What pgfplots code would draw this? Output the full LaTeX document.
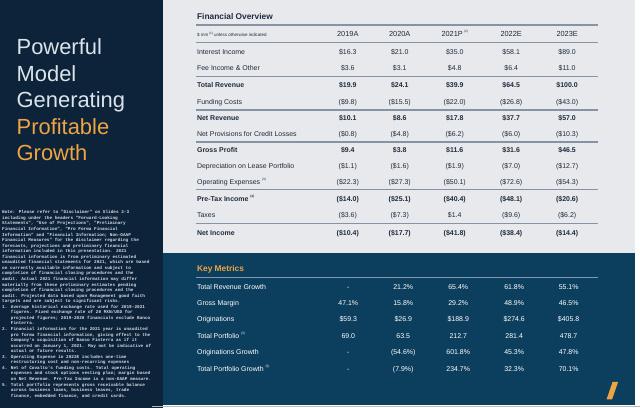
\documentclass[border=0pt]{standalone}
\usepackage{pgfplots}
\pgfplotsset{compat=1.18}
\usepackage{fontspec}
\setmainfont{Liberation Sans}
\newfontfamily\notefont{Liberation Mono}
\definecolor{leftbg}{HTML}{0C233A}
\definecolor{graybg}{HTML}{E8E9ED}
\definecolor{tealbg}{HTML}{0C3E5D}
\definecolor{ink}{HTML}{1E2C3C}
\definecolor{rulec}{HTML}{8593A5}
\definecolor{krule}{HTML}{7F98AE}
\definecolor{orng}{HTML}{EFA443}
\definecolor{titlegray}{HTML}{DCE3EA}
\definecolor{notegray}{HTML}{D5DBE2}
\newcommand\fn[1]{\raisebox{0.5em}{\fontsize{3.2}{3.2}\selectfont(#1)}}
\newcommand\rf{\fontsize{7}{8.4}\selectfont}
\newcommand\rfb{\fontsize{7}{8.4}\selectfont\bfseries}
% financial overview row: font, y, label, 5 values
\newcommand\frow[8]{%
 \node[anchor=mid west,font=#1,text=ink,inner sep=0] at (axis cs:197,#2) {#3};
 \node[anchor=mid,font=#1,text=ink,inner sep=0] at (axis cs:348,#2) {#4};
 \node[anchor=mid,font=#1,text=ink,inner sep=0] at (axis cs:400,#2) {#5};
 \node[anchor=mid,font=#1,text=ink,inner sep=0] at (axis cs:455,#2) {#6};
 \node[anchor=mid,font=#1,text=ink,inner sep=0] at (axis cs:511.5,#2) {#7};
 \node[anchor=mid,font=#1,text=ink,inner sep=0] at (axis cs:567.5,#2) {#8};}
% key metrics row: y, label, 5 values
\newcommand\krow[7]{%
 \node[anchor=mid west,font=\rf,text=white,inner sep=0] at (axis cs:197,#1) {#2};
 \node[anchor=mid,font=\rf,text=white,inner sep=0] at (axis cs:348.5,#1) {#3};
 \node[anchor=mid,font=\rf,text=white,inner sep=0] at (axis cs:403.5,#1) {#4};
 \node[anchor=mid,font=\rf,text=white,inner sep=0] at (axis cs:458.5,#1) {#5};
 \node[anchor=mid,font=\rf,text=white,inner sep=0] at (axis cs:514.5,#1) {#6};
 \node[anchor=mid,font=\rf,text=white,inner sep=0] at (axis cs:569,#1) {#7};}
\begin{document}
\begin{tikzpicture}
\begin{axis}[at={(0,0)},anchor=south west,scale only axis,
  width=640bp,height=408bp,xmin=0,xmax=640,ymin=0,ymax=408,
  y dir=reverse,hide axis,clip=false]
% backgrounds
\fill[white] (axis cs:0,0) rectangle (axis cs:640,408);
\fill[leftbg] (axis cs:0,0) rectangle (axis cs:163,408);
\fill[graybg] (axis cs:163,0) rectangle (axis cs:635,253);
\fill[tealbg] (axis cs:163,253) rectangle (axis cs:635,405);
\draw[gray!55,line width=0.8bp] (axis cs:152,406.6) -- (axis cs:640,406.6);
% left title
\node[anchor=base west,font=\fontsize{22}{26}\selectfont,text=titlegray,inner sep=0] at (axis cs:16.5,55) {Powerful};
\node[anchor=base west,font=\fontsize{22}{26}\selectfont,text=titlegray,inner sep=0] at (axis cs:16.5,81.5) {Model};
\node[anchor=base west,font=\fontsize{22}{26}\selectfont,text=titlegray,inner sep=0] at (axis cs:16.5,108) {Generating};
\node[anchor=base west,font=\fontsize{22}{26}\selectfont,text=orng,inner sep=0] at (axis cs:16.5,134.5) {Profitable};
\node[anchor=base west,font=\fontsize{22}{26}\selectfont,text=orng,inner sep=0] at (axis cs:16.5,161) {Growth};
% footnotes
\node[anchor=north west,inner sep=0,align=left,text=notegray,
  font=\notefont\bfseries\fontsize{4.4}{5.58}\selectfont] at (axis cs:2,210.5) {%
Note: Please refer to "Disclaimer" on Slides 2-3\\
including under the headers "Forward-Looking\\
Statements", "Use of Projections", "Preliminary\\
Financial Information", "Pro Forma Financial\\
Information" and "Financial Information; Non-GAAP\\
Financial Measures" for the disclaimer regarding the\\
forecasts, projections and preliminary financial\\
information included in this presentation. 2021\\
financial information is from preliminary estimated\\
unaudited financial statements for 2021, which are based\\
on currently available information and subject to\\
completion of financial closing procedures and the\\
audit. Actual 2021 financial information may differ\\
materially from these preliminary estimates pending\\
completion of financial closing procedures and the\\
audit. Projected data based upon Management good faith\\
targets and are subject to significant risks.\\
1. Average historical exchange rate used for 2019-2021\\
\phantom{1. }figures. Fixed exchange rate of 20 MXN/USD for\\
\phantom{1. }projected figures; 2019-2020 financials exclude Banco\\
\phantom{1. }Finterra.\\
2. Financial information for the 2021 year is unaudited\\
\phantom{2. }pro forma financial information, giving effect to the\\
\phantom{2. }Company's acquisition of Banco Finterra as if it\\
\phantom{2. }occurred on January 1, 2021. May not be indicative of\\
\phantom{2. }actual or future results.\\
3. Operating Expense in 2022E includes one-time\\
\phantom{3. }restructuring cost and non-recurring expenses\\
4. Net of Covalto's funding costs. Total operating\\
\phantom{4. }expenses and stock options vesting plan; margin based\\
\phantom{4. }on Net Revenue. Pre-Tax Income is a non-GAAP measure.\\
5. Total portfolio represents gross receivable balance\\
\phantom{5. }across business loans, business leases, trade\\
\phantom{5. }finance, embedded finance, and credit cards.};
% Financial overview
\node[anchor=mid west,font=\fontsize{8.4}{9}\selectfont\bfseries,text=ink,inner sep=0] at (axis cs:197,16.7) {Financial Overview};
\draw[rulec,line width=1.2bp] (axis cs:196,25) -- (axis cs:598,25);
\node[anchor=mid west,font=\fontsize{4.5}{5}\selectfont,text=ink,inner sep=0] at (axis cs:197,34) {\$ mm\,\fn{1} unless otherwise indicated};
\frow{\fontsize{7.4}{8}\selectfont}{34}{}{2019A}{2020A}{2021P\,\fn{2}}{2022E}{2023E}
\draw[rulec,line width=1.2bp] (axis cs:196,42.3) -- (axis cs:598,42.3);
\frow{\rf}{51.7}{Interest Income}{\$16.3}{\$21.0}{\$35.0}{\$58.1}{\$89.0}
\frow{\rf}{68.3}{Fee Income \& Other}{\$3.6}{\$3.1}{\$4.8}{\$6.4}{\$11.0}
\draw[rulec,line width=1.2bp] (axis cs:196,76.7) -- (axis cs:598,76.7);
\frow{\rfb}{85}{Total Revenue}{\$19.9}{\$24.1}{\$39.9}{\$64.5}{\$100.0}
\frow{\rf}{101.7}{Funding Costs}{(\$9.8)}{(\$15.5)}{(\$22.0)}{(\$26.8)}{(\$43.0)}
\draw[rulec,line width=1.2bp] (axis cs:196,110) -- (axis cs:598,110);
\frow{\rfb}{117.5}{Net Revenue}{\$10.1}{\$8.6}{\$17.8}{\$37.7}{\$57.0}
\frow{\rf}{133.5}{Net Provisions for Credit Losses}{(\$0.8)}{(\$4.8)}{(\$6.2)}{(\$6.0)}{(\$10.3)}
\draw[rulec,line width=1.2bp] (axis cs:196,142) -- (axis cs:598,142);
\frow{\rfb}{149.5}{Gross Profit}{\$9.4}{\$3.8}{\$11.6}{\$31.6}{\$46.5}
\frow{\rf}{166}{Depreciation on Lease Portfolio}{(\$1.1)}{(\$1.6)}{(\$1.9)}{(\$7.0)}{(\$12.7)}
\frow{\rf}{181.5}{Operating Expenses \fn{3}}{(\$22.3)}{(\$27.3)}{(\$50.1)}{(\$72.6)}{(\$54.3)}
\draw[rulec,line width=1.2bp] (axis cs:196,190) -- (axis cs:598,190);
\frow{\rfb}{198.7}{Pre-Tax Income \fn{4}}{(\$14.0)}{(\$25.1)}{(\$40.4)}{(\$48.1)}{(\$20.6)}
\frow{\rf}{215}{Taxes}{(\$3.6)}{(\$7.3)}{\$1.4}{(\$9.6)}{(\$6.2)}
\draw[rulec,line width=1.2bp] (axis cs:196,224) -- (axis cs:598,224);
\frow{\rfb}{232.7}{Net Income}{(\$10.4)}{(\$17.7)}{(\$41.8)}{(\$38.4)}{(\$14.4)}
% Key metrics
\node[anchor=mid west,font=\fontsize{8.4}{9}\selectfont\bfseries,text=orng,inner sep=0] at (axis cs:197,269) {Key Metrics};
\draw[krule,line width=1.1bp] (axis cs:196,277.7) -- (axis cs:598,277.7);
\krow{286.7}{Total Revenue Growth}{-}{21.2\%}{65.4\%}{61.8\%}{55.1\%}
\krow{302.7}{Gross Margin}{47.1\%}{15.8\%}{29.2\%}{48.9\%}{46.5\%}
\krow{319.3}{Originations}{\$59.3}{\$26.9}{\$188.9}{\$274.6}{\$405.8}
\krow{335.8}{Total Portfolio \fn{5}}{69.0}{63.5}{212.7}{281.4}{478.7}
\krow{352.3}{Originations Growth}{-}{(54.6\%)}{601.8\%}{45.3\%}{47.8\%}
\krow{369}{Total Portfolio Growth \fn{5}}{-}{(7.9\%)}{234.7\%}{32.3\%}{70.1\%}
% logo slash
\fill[orng] (axis cs:607,399.5) -- (axis cs:612.5,399.5) -- (axis cs:618.5,382) -- (axis cs:613,382) -- cycle;
\end{axis}
\end{tikzpicture}
\end{document}
